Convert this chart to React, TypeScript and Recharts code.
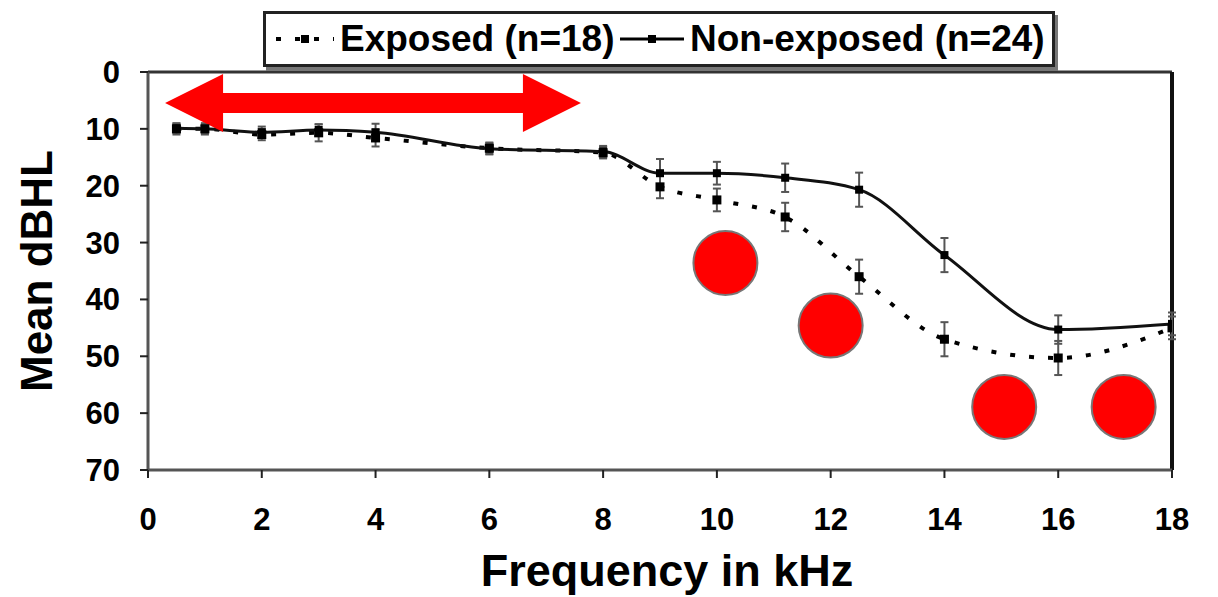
import {
  LineChart,
  Line,
  XAxis,
  YAxis,
  ErrorBar,
  ReferenceDot,
  ReferenceLine,
} from 'recharts'

// frequencies (kHz) and mean thresholds (dBHL)
const freq = [0.5, 1, 2, 3, 4, 6, 8, 9, 10, 11.2, 12.5, 14, 16, 18]
const exposed = [10, 10, 11, 10.7, 11.6, 13.4, 14.2, 20.2, 22.5, 25.5, 36, 47, 50.3, 45]
const exposedErr = [1, 1, 1, 1.5, 1.5, 1, 1, 2, 2, 2.5, 3, 3, 3, 2]
const nonExposed = [9.9, 10, 10.6, 10.2, 10.6, 13.5, 14, 17.8, 17.8, 18.6, 20.7, 32.2, 45.3, 44.3]
const nonExposedErr = [0.8, 0.8, 1, 1, 1.5, 1, 1, 2.5, 2, 2.5, 3, 3, 2.5, 2]

const xTicks = [0, 2, 4, 6, 8, 10, 12, 14, 16, 18]
const yTicks = [0, 10, 20, 30, 40, 50, 60, 70]

// red annotation marks (data units)
const circleX = [10.15, 12.0, 15.05, 17.15]
const circleY = [33.6, 44.6, 58.9, 58.9]
const arrowFrom = { x: 0.3, y: 5.45 }
const arrowTo = { x: 7.61, y: 5.45 }

const data = freq.map((f, i) => ({
  f,
  exposed: exposed[i],
  exposedErr: exposedErr[i],
  nonExposed: nonExposed[i],
  nonExposedErr: nonExposedErr[i],
}))

const FONT = '"Liberation Sans", Arial, sans-serif'

function squareDot(size: number) {
  return (props: any) => {
    const { cx, cy, index } = props
    if (cx == null || cy == null) return <g key={index} />
    return (
      <rect
        key={index}
        x={cx - size / 2}
        y={cy - size / 2}
        width={size}
        height={size}
        fill="#000"
      />
    )
  }
}

function DoubleArrow(props: any) {
  const { x1, x2, y1 } = props
  const left = Math.min(x1, x2)
  const right = Math.max(x1, x2)
  const head = 58
  const shaft = 10
  const half = 29
  const pts = [
    [left, y1],
    [left + head, y1 - half],
    [left + head, y1 - shaft],
    [right - head, y1 - shaft],
    [right - head, y1 - half],
    [right, y1],
    [right - head, y1 + half],
    [right - head, y1 + shaft],
    [left + head, y1 + shaft],
    [left + head, y1 + half],
  ]
  return <polygon points={pts.map((p) => p.join(',')).join(' ')} fill="#ff0000" />
}

function LegendBox() {
  const item: React.CSSProperties = { position: 'absolute', top: 0, lineHeight: '50px' }
  return (
    <div
      style={{
        position: 'absolute',
        left: 263,
        top: 11,
        width: 786,
        height: 50,
        background: '#fff',
        border: '3px solid #222',
        boxShadow: '3px 4px 0 #777',
        fontFamily: FONT,
        fontWeight: 700,
        fontSize: 37,
        color: '#000',
        whiteSpace: 'nowrap',
      }}
    >
      <svg width={64} height={20} style={{ position: 'absolute', left: 6, top: 15 }}>
        <line x1={4} y1={10} x2={62} y2={10} stroke="#000" strokeWidth={4} strokeDasharray="5 14" />
        <rect x={29} y={6} width={8} height={8} fill="#000" />
      </svg>
      <span style={{ ...item, left: 74 }}>Exposed (n=18)</span>
      <svg width={68} height={20} style={{ position: 'absolute', left: 352, top: 15 }}>
        <line x1={2} y1={10} x2={66} y2={10} stroke="#000" strokeWidth={3} />
        <rect x={30} y={6} width={8} height={8} fill="#000" />
      </svg>
      <span style={{ ...item, left: 424 }}>Non-exposed (n=24)</span>
    </div>
  )
}

export default function App() {
  return (
    <div style={{ position: 'absolute', left: 0, top: 0, width: 1218, height: 597, background: '#fff' }}>
      <LineChart
        width={1218}
        height={597}
        data={data}
        margin={{ top: 72, right: 46, bottom: 97, left: 48 }}
      >
        <XAxis
          dataKey="f"
          type="number"
          domain={[0, 18]}
          ticks={xTicks}
          interval={0}
          allowDataOverflow
          height={30}
          stroke="#555"
          strokeWidth={3}
          tickSize={8}
          tickMargin={30}
          tick={{ fontSize: 31, fontWeight: 700, fontFamily: FONT, fill: '#000' }}
          tickLine={{ stroke: '#222', strokeWidth: 2 }}
          label={{
            content: ({ viewBox }: any) => (
              <text
                x={viewBox.x + viewBox.width / 2 + 7}
                y={586}
                textAnchor="middle"
                fontFamily={FONT}
                fontWeight={700}
                fontSize={45}
                fill="#000"
              >
                Frequency in kHz
              </text>
            ),
          }}
        />
        <YAxis
          type="number"
          reversed
          domain={[0, 70]}
          ticks={yTicks}
          interval={0}
          width={100}
          stroke="#555"
          strokeWidth={3}
          tickSize={8}
          tickMargin={20}
          tick={{ fontSize: 31, fontWeight: 700, fontFamily: FONT, fill: '#000' }}
          tickLine={{ stroke: '#222', strokeWidth: 2 }}
          label={{
            content: ({ viewBox }: any) => {
              const cx = 52
              const cy = viewBox.y + viewBox.height / 2
              return (
                <text
                  x={cx}
                  y={cy}
                  textAnchor="middle"
                  transform={`rotate(-90, ${cx}, ${cy})`}
                  fontFamily={FONT}
                  fontWeight={700}
                  fontSize={44}
                  fill="#000"
                >
                  Mean dBHL
                </text>
              )
            },
          }}
        />
        <ReferenceLine y={0} stroke="#333" strokeWidth={3} />
        <ReferenceLine x={18} stroke="#111" strokeWidth={4} />
        <Line
          type="monotone"
          dataKey="exposed"
          stroke="#000"
          strokeWidth={4}
          strokeDasharray="5 14"
          dot={squareDot(9)}
          isAnimationActive={false}
        >
          <ErrorBar dataKey="exposedErr" direction="y" width={4} stroke="#555" strokeWidth={2} />
        </Line>
        <Line
          type="monotone"
          dataKey="nonExposed"
          stroke="#111"
          strokeWidth={3}
          dot={squareDot(8)}
          isAnimationActive={false}
        >
          <ErrorBar dataKey="nonExposedErr" direction="y" width={4} stroke="#555" strokeWidth={2} />
        </Line>
        {circleX.map((cx, i) => (
          <ReferenceDot
            key={i}
            x={cx}
            y={circleY[i]}
            r={32}
            fill="#ff0000"
            fillOpacity={1}
            stroke="#777"
            strokeWidth={2}
          />
        ))}
        <ReferenceLine
          segment={[arrowFrom, arrowTo]}
          shape={(p: any) => <DoubleArrow {...p} />}
        />
      </LineChart>
      <LegendBox />
    </div>
  )
}
